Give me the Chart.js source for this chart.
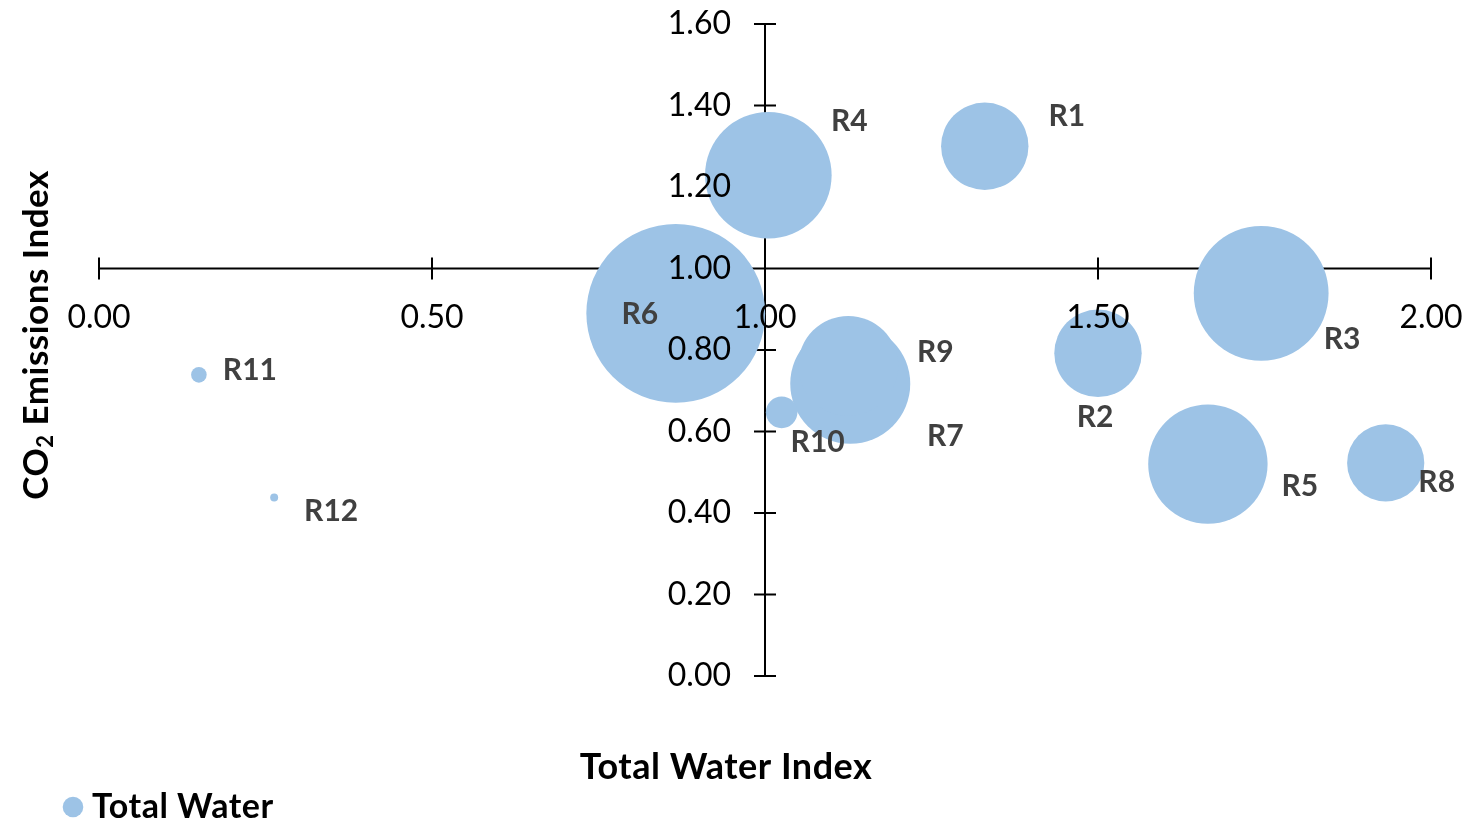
<!DOCTYPE html>
<html>
<head>
<meta charset="utf-8">
<title>Total Water vs CO2 Emissions</title>
<script src="https://cdn.jsdelivr.net/npm/chart.js@4/dist/chart.umd.min.js"></script>
<style>
  html, body { margin: 0; padding: 0; background: #ffffff; }
  canvas { display: block; }
</style>
</head>
<body>
<canvas id="chart" width="1474" height="824"></canvas>
<script>
// Regions and their index values
const regions = ['R1', 'R2', 'R3', 'R4', 'R5', 'R6', 'R7', 'R8', 'R9', 'R10', 'R11', 'R12'];
const waterIndex = [1.33, 1.50, 1.745, 1.005, 1.665, 0.866, 1.128, 1.932, 1.125, 1.025, 0.150, 0.263];
const co2Index = [1.30, 0.792, 0.939, 1.229, 0.520, 0.890, 0.717, 0.523, 0.761, 0.647, 0.739, 0.438];
// Bubble radius (px) for each region
const bubbleRadius = [43.7, 43.7, 67.4, 63.3, 59.7, 89.4, 60, 38.6, 50, 15.8, 7.8, 4];

const seriesName = 'Total Water';
const xTitle = 'Total Water Index';
const yTitleParts = ['CO', '2', ' Emissions Index'];
// Both axes cross at this value
const axisCross = 1;

// Label placement relative to each bubble centre (style only)
const labelOffsets = [
  [82, -30], [-3, 64], [81, 46], [81, -54], [92, 22], [-36, 1],
  [95, 53], [51, 19], [87, -14], [36, 30], [51, -5], [57, 14]
];

const bubbleColor = '#9DC3E6';
const FONT = 'Lato, "Open Sans", sans-serif';

// Axis lines with tick marks crossing them, drawn beneath the bubbles
const crossAxes = {
  id: 'crossAxes',
  beforeDatasetsDraw(chart) {
    const { ctx, chartArea, scales: { x, y } } = chart;
    const len = 11;
    const y0 = y.getPixelForValue(axisCross);
    const x0 = x.getPixelForValue(axisCross);
    ctx.save();
    ctx.strokeStyle = '#000';
    ctx.lineWidth = 2;
    ctx.beginPath();
    ctx.moveTo(chartArea.left, y0);
    ctx.lineTo(chartArea.right, y0);
    ctx.moveTo(x0, chartArea.top);
    ctx.lineTo(x0, chartArea.bottom);
    x.ticks.forEach(t => {
      const px = x.getPixelForValue(t.value);
      ctx.moveTo(px, y0 - len);
      ctx.lineTo(px, y0 + len);
    });
    y.ticks.forEach(t => {
      const py = y.getPixelForValue(t.value);
      ctx.moveTo(x0 - len, py);
      ctx.lineTo(x0 + len, py);
    });
    ctx.stroke();
    ctx.restore();
  },
  // tick labels sit on top of the bubbles
  afterDatasetsDraw(chart) {
    const { ctx, scales: { x, y } } = chart;
    const y0 = y.getPixelForValue(axisCross);
    const x0 = x.getPixelForValue(axisCross);
    ctx.save();
    ctx.fillStyle = '#000';
    ctx.font = `32px ${FONT}`;
    ctx.textBaseline = 'middle';
    ctx.textAlign = 'center';
    x.ticks.forEach(t => {
      ctx.fillText(t.value.toFixed(2), x.getPixelForValue(t.value), y0 + 49);
    });
    ctx.textAlign = 'right';
    y.ticks.forEach(t => {
      ctx.fillText(t.value.toFixed(2), x0 - 34, y.getPixelForValue(t.value));
    });
    ctx.restore();
  }
};

// Region names beside the bubbles
const regionLabels = {
  id: 'regionLabels',
  afterDatasetsDraw(chart) {
    const { ctx } = chart;
    const meta = chart.getDatasetMeta(0);
    ctx.save();
    ctx.font = `bold 30px ${FONT}`;
    ctx.fillStyle = '#404040';
    ctx.textAlign = 'center';
    ctx.textBaseline = 'middle';
    meta.data.forEach((el, i) => {
      const [dx, dy] = labelOffsets[i];
      ctx.fillText(regions[i], el.x + dx, el.y + dy);
    });
    ctx.restore();
  }
};

// Axis titles and legend entry
const titlesAndLegend = {
  id: 'titlesAndLegend',
  afterDraw(chart) {
    const { ctx } = chart;
    ctx.save();
    ctx.fillStyle = '#000';
    ctx.letterSpacing = '0.5px';
    ctx.font = `bold 36px ${FONT}`;
    ctx.textAlign = 'center';
    ctx.textBaseline = 'alphabetic';
    ctx.fillText(xTitle, 726, 779);

    // vertical title with subscript
    ctx.translate(48, 335);
    ctx.rotate(-Math.PI / 2);
    const big = `bold 35px ${FONT}`;
    const small = `bold 22px ${FONT}`;
    ctx.font = big;
    const w0 = ctx.measureText(yTitleParts[0]).width;
    const w2 = ctx.measureText(yTitleParts[2]).width;
    ctx.font = small;
    const w1 = ctx.measureText(yTitleParts[1]).width;
    let cx = -(w0 + w1 + w2) / 2;
    ctx.textAlign = 'left';
    ctx.font = big;
    ctx.fillText(yTitleParts[0], cx, 0);
    cx += w0;
    ctx.font = small;
    ctx.fillText(yTitleParts[1], cx, 5);
    cx += w1;
    ctx.font = big;
    ctx.fillText(yTitleParts[2], cx, 0);
    ctx.restore();

    // legend
    const ds = chart.data.datasets[0];
    ctx.save();
    ctx.fillStyle = ds.backgroundColor;
    ctx.beginPath();
    ctx.arc(73, 807, 10.3, 0, Math.PI * 2);
    ctx.fill();
    ctx.fillStyle = '#000';
    ctx.letterSpacing = '0.5px';
    ctx.font = `bold 34px ${FONT}`;
    ctx.textAlign = 'left';
    ctx.textBaseline = 'alphabetic';
    ctx.fillText(ds.label, 92, 818);
    ctx.restore();
  }
};

const points = regions.map((name, i) => ({ x: waterIndex[i], y: co2Index[i], r: bubbleRadius[i] }));

new Chart(document.getElementById('chart'), {
  type: 'bubble',
  data: {
    datasets: [{
      label: seriesName,
      data: points,
      backgroundColor: bubbleColor,
      borderWidth: 0,
      hoverBorderWidth: 0,
      clip: false
    }]
  },
  options: {
    responsive: false,
    animation: false,
    events: [],
    layout: {
      autoPadding: false,
      padding: { left: 99, right: 43, top: 24, bottom: 148 }
    },
    plugins: {
      legend: { display: false },
      tooltip: { enabled: false }
    },
    scales: {
      x: {
        type: 'linear',
        display: false,
        min: 0,
        max: 2,
        ticks: { stepSize: 0.5 }
      },
      y: {
        type: 'linear',
        display: false,
        min: 0,
        max: 1.6,
        ticks: { stepSize: 0.2 }
      }
    }
  },
  plugins: [crossAxes, regionLabels, titlesAndLegend]
});
</script>
</body>
</html>
